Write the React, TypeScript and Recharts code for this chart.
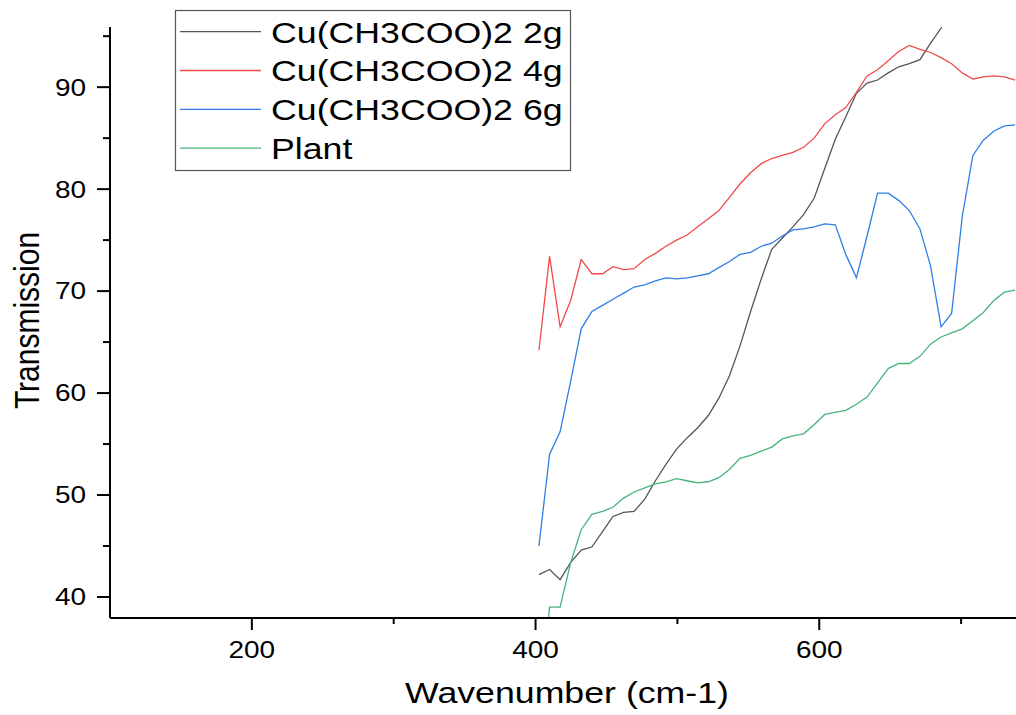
import React from 'react';
import { LineChart, Line, XAxis, YAxis, Legend } from 'recharts';

// Wavenumber grid (cm-1) shared by all four spectra
const wavenumbers = [
  402.4, 409.9, 417.3, 424.8, 432.2, 439.7, 447.2, 454.6, 462.1, 469.5,
  477.0, 484.5, 491.9, 499.4, 506.8, 514.3, 521.8, 529.2, 536.7, 544.1,
  551.6, 559.1, 566.5, 574.0, 581.4, 588.9, 596.4, 603.8, 611.3, 618.7,
  626.2, 633.7, 641.1, 648.6, 656.0, 663.5, 671.0, 678.4, 685.9, 693.3,
  700.8, 708.3, 715.7, 723.2, 730.6, 738.1,
];

// Transmission values (%) per sample
const cu2g = [
  42.2, 42.7, 41.7, 43.4, 44.6, 44.9, 46.4, 47.9, 48.3, 48.4,
  49.6, 51.4, 53.0, 54.5, 55.6, 56.6, 57.8, 59.5, 61.7, 64.6,
  68.0, 71.2, 74.1, 75.2, 76.3, 77.5, 79.1, 82.0, 84.9, 87.1,
  89.4, 90.4, 90.7, 91.4, 92.0, 92.3, 92.7, 94.3, 95.8, 97.6,
  null, null, null, null, null, null,
];
const cu4g = [
  64.2, 73.4, 66.5, 69.1, 73.1, 71.7, 71.7, 72.4, 72.1, 72.2,
  73.1, 73.7, 74.4, 75.0, 75.5, 76.3, 77.1, 77.9, 79.2, 80.5,
  81.6, 82.5, 83.0, 83.3, 83.6, 84.1, 85.0, 86.4, 87.3, 88.0,
  89.5, 91.1, 91.7, 92.6, 93.5, 94.1, 93.7, 93.4, 92.9, 92.3,
  91.4, 90.8, 91.0, 91.1, 91.0, 90.7,
];
const cu6g = [
  45.0, 54.0, 56.2, 61.2, 66.3, 68.0, 68.6, 69.2, 69.8, 70.4,
  70.6, 71.0, 71.3, 71.2, 71.3, 71.5, 71.7, 72.3, 72.9, 73.6,
  73.8, 74.4, 74.7, 75.4, 76.0, 76.1, 76.3, 76.6, 76.5, 73.6,
  71.3, 75.4, 79.6, 79.6, 78.9, 77.9, 76.1, 72.5, 66.5, 67.8,
  77.3, 83.3, 84.8, 85.7, 86.2, 86.3,
];
const plant = [
  28.0, 39.0, 39.0, 43.4, 46.6, 48.1, 48.4, 48.8, 49.7, 50.3,
  50.7, 51.1, 51.3, 51.6, 51.4, 51.2, 51.3, 51.7, 52.5, 53.6,
  53.9, 54.3, 54.7, 55.5, 55.8, 56.0, 56.9, 57.9, 58.1, 58.3,
  58.9, 59.6, 61.0, 62.4, 62.9, 62.9, 63.6, 64.8, 65.5, 65.9,
  66.3, 67.1, 67.9, 69.1, 69.9, 70.1,
];

const xTicks = [200, 300, 400, 500, 600, 700];
const xLabels = [200, 400, 600];
const yTicks = [40, 45, 50, 55, 60, 65, 70, 75, 80, 85, 90, 95];
const yLabels = [40, 50, 60, 70, 80, 90];

const series = [
  { key: 'cu2g', name: 'Cu(CH3COO)2 2g', color: '#555555', values: cu2g },
  { key: 'cu4g', name: 'Cu(CH3COO)2 4g', color: '#f04a4a', values: cu4g },
  { key: 'cu6g', name: 'Cu(CH3COO)2 6g', color: '#2f7ee6', values: cu6g },
  { key: 'plant', name: 'Plant', color: '#45b47a', values: plant },
];

const rows = wavenumbers.map((w, i) => {
  const row: Record<string, number | null> = { wavenumber: w };
  series.forEach((s) => {
    row[s.key] = s.values[i];
  });
  return row;
});

const FONT = '"Liberation Sans", Arial, Helvetica, sans-serif';
const STRETCH = 1.19;

const XTick = (props: any) => {
  const { x, y, payload } = props;
  const v = payload.value;
  const major = xLabels.includes(v);
  return (
    <g>
      <line x1={x} x2={x} y1={y} y2={y + (major ? 12 : 6)} stroke="#000" strokeWidth={2} />
      {major && (
        <text
          transform={`translate(${x},${y + 40}) scale(${STRETCH},1)`}
          textAnchor="middle"
          fontSize={23.5}
          fontFamily={FONT}
          fill="#000"
        >
          {v}
        </text>
      )}
    </g>
  );
};

const YTick = (props: any) => {
  const { x, y, payload } = props;
  const v = payload.value;
  const major = yLabels.includes(v);
  return (
    <g>
      <line x1={x - (major ? 13 : 7)} x2={x} y1={y} y2={y} stroke="#000" strokeWidth={2} />
      {major && (
        <text
          transform={`translate(${x - 24},${y + 8.4}) scale(${STRETCH},1)`}
          textAnchor="end"
          fontSize={23.5}
          fontFamily={FONT}
          fill="#000"
        >
          {v}
        </text>
      )}
    </g>
  );
};

const XTitle = (props: any) => {
  const vb = props.viewBox || { x: 110, y: 618, width: 906, height: 97 };
  const cx = vb.x + vb.width / 2 + 4;
  return (
    <text
      transform={`translate(${cx},${vb.y + 85}) scale(${STRETCH},1)`}
      textAnchor="middle"
      fontSize={30}
      fontFamily={FONT}
      fill="#000"
    >
      Wavenumber (cm-1)
    </text>
  );
};

const YTitle = (props: any) => {
  const vb = props.viewBox || { x: 0, y: 27, width: 110, height: 591 };
  const cy = vb.y + vb.height / 2 - 2;
  return (
    <text
      transform={`translate(${vb.x + 39},${cy}) scale(${STRETCH},1) rotate(-90)`}
      textAnchor="middle"
      fontSize={30}
      fontFamily={FONT}
      fill="#000"
    >
      Transmission
    </text>
  );
};

const LegendBox = () => {
  const rowGap = 38.8;
  return (
    <svg width={398} height={164} style={{ display: 'block', overflow: 'visible' }}>
      <rect x={0.5} y={0.5} width={395} height={160} fill="#fff" stroke="#555" strokeWidth={1.2} />
      {series.map((s, i) => {
        const cy = 21.7 + i * rowGap;
        return (
          <g key={s.key}>
            <line x1={5} x2={86} y1={cy} y2={cy} stroke={s.color} strokeWidth={1.3} />
            <text
              transform={`translate(96,${cy + 10.8}) scale(${STRETCH},1)`}
              fontSize={30}
              fontFamily={FONT}
              fill="#000"
            >
              {s.name}
            </text>
          </g>
        );
      })}
    </svg>
  );
};

export default function App() {
  return (
    <div style={{ position: 'fixed', left: 0, top: 0, width: 1016, height: 715, background: '#fff', overflow: 'hidden' }}>
      <LineChart width={1016} height={715} data={rows} margin={{ top: 27, right: 0, bottom: 0, left: 0 }}>
        <XAxis
          dataKey="wavenumber"
          type="number"
          domain={[100, 738.7]}
          ticks={xTicks}
          interval={0}
          allowDataOverflow
          height={97}
          tickSize={0}
          tickMargin={0}
          tickLine={false}
          axisLine={{ stroke: '#000', strokeWidth: 2 }}
          tick={<XTick />}
          label={{ content: <XTitle /> }}
        />
        <YAxis
          type="number"
          domain={[37.94, 95.9]}
          ticks={yTicks}
          interval={0}
          allowDataOverflow
          width={110}
          tickSize={0}
          tickMargin={0}
          tickLine={false}
          axisLine={{ stroke: '#000', strokeWidth: 2 }}
          tick={<YTick />}
          label={{ content: <YTitle /> }}
        />
        <Legend
          verticalAlign="middle"
          align="center"
          layout="horizontal"
          content={<LegendBox />}
          wrapperStyle={{ position: 'absolute', left: 175, top: 10, width: 398, height: 164, margin: 0, padding: 0 }}
        />
        {series.map((s) => (
          <Line
            key={s.key}
            type="linear"
            dataKey={s.key}
            name={s.name}
            stroke={s.color}
            strokeWidth={1.3}
            dot={false}
            activeDot={false}
            connectNulls={false}
            isAnimationActive={false}
          />
        ))}
      </LineChart>
    </div>
  );
}
